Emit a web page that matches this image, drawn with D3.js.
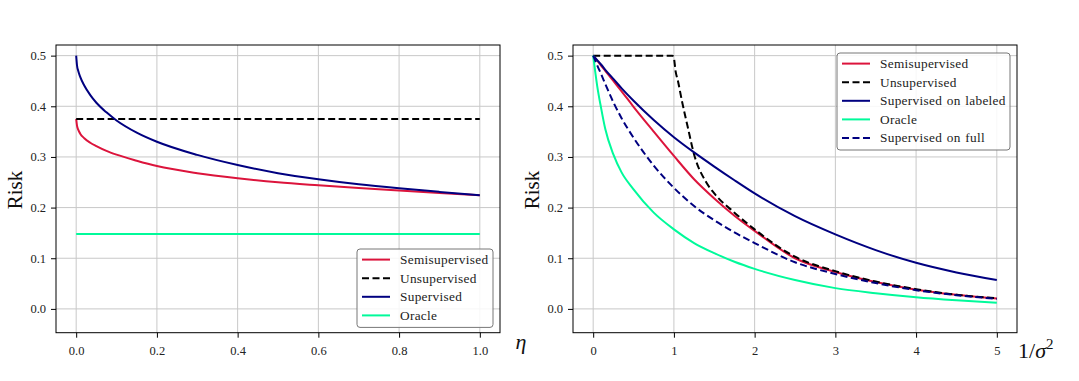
<!DOCTYPE html>
<html>
<head>
<meta charset="utf-8">
<script src="https://cdn.jsdelivr.net/npm/d3@7"></script>
<style>
  body { margin: 0; background: #fff; }
  text { font-family: "Liberation Serif", "DejaVu Serif", serif; }
</style>
</head>
<body>
<div id="chart"></div>
<script>
// left panel: risk vs eta
var etaGrid = [0, 0.002, 0.005, 0.01, 0.02, 0.035, 0.05, 0.075, 0.1, 0.15, 0.2, 0.3, 0.4, 0.5, 0.6, 0.7, 0.8, 0.9, 1.0];
var semiEta = [0.375, 0.362, 0.354, 0.346, 0.337, 0.328, 0.3215, 0.312, 0.3045, 0.2925, 0.282, 0.268, 0.258, 0.250, 0.244, 0.2385, 0.2335, 0.2288, 0.2245];
var supEta = [0.5, 0.481, 0.470, 0.458, 0.441, 0.422, 0.407, 0.388, 0.372, 0.348, 0.330, 0.304, 0.284, 0.268, 0.256, 0.246, 0.238, 0.231, 0.2245];
var unsupEta = [0.375, 0.375];
var oracleEta = [0.148, 0.148];
var etaEnds = [0, 1];

// right panel: risk vs 1/sigma^2
var sGrid = [0, 0.05, 0.1, 0.15, 0.25, 0.35, 0.5, 0.75, 1, 1.25, 1.5, 1.75, 2, 2.5, 3, 3.5, 4, 4.5, 5];
var semiS = [0.5, 0.49, 0.48, 0.47, 0.45, 0.43, 0.399, 0.35, 0.302, 0.256, 0.218, 0.184, 0.154, 0.1, 0.073, 0.053, 0.038, 0.028, 0.0205];
var supLabS = [0.5, 0.491, 0.482, 0.472, 0.454, 0.436, 0.411, 0.373, 0.339, 0.309, 0.281, 0.254, 0.228, 0.183, 0.147, 0.116, 0.091, 0.072, 0.057];
var oracleS = [0.5, 0.44, 0.395, 0.355, 0.305, 0.27, 0.236, 0.19, 0.157, 0.13, 0.11, 0.093, 0.079, 0.057, 0.041, 0.031, 0.023, 0.017, 0.012];
var supFullS = [0.5, 0.481, 0.463, 0.444, 0.408, 0.377, 0.338, 0.283, 0.239, 0.203, 0.175, 0.151, 0.13, 0.092, 0.069, 0.051, 0.037, 0.027, 0.02];
var unsupGrid = [0, 0.98, 1.0, 1.02, 1.05, 1.1, 1.17, 1.25, 1.4, 1.5, 1.75, 2, 2.5, 3, 3.5, 4, 4.5, 5];
var unsupS = [0.5, 0.5, 0.495, 0.47, 0.45, 0.41, 0.36, 0.305, 0.25, 0.228, 0.19, 0.157, 0.103, 0.0745, 0.054, 0.039, 0.028, 0.021];

var yTicks = [0, 0.1, 0.2, 0.3, 0.4, 0.5];
var etaTicks = [0, 0.2, 0.4, 0.6, 0.8, 1.0];
var sTicks = [0, 1, 2, 3, 4, 5];

var RED = "#dc143c", NAVY = "#000080", GREEN = "#00fa9a", BLACK = "#000";

var svg = d3.select("#chart").append("svg").attr("width", 1079).attr("height", 381);
svg.append("rect").attr("width", 1079).attr("height", 381).attr("fill", "#fff");

var plotTop = 45, plotBottom = 332.7;
var yScale = d3.scaleLinear().domain([-0.047, 0.521]).range([plotBottom, plotTop]);

function panel(left, right, xDomain, xTicks, fmt) {
    var xScale = d3.scaleLinear().domain(xDomain).range([left, right]);
    var g = svg.append("g");

    // grid
    g.selectAll(".vg").data(xTicks).enter().append("line")
     .attr("x1", function(d) { return xScale(d); }).attr("x2", function(d) { return xScale(d); })
     .attr("y1", plotTop).attr("y2", plotBottom)
     .attr("stroke", "#c8c8c8").attr("stroke-width", 1);
    g.selectAll(".hg").data(yTicks).enter().append("line")
     .attr("y1", function(d) { return yScale(d); }).attr("y2", function(d) { return yScale(d); })
     .attr("x1", left).attr("x2", right)
     .attr("stroke", "#c8c8c8").attr("stroke-width", 1);

    var curves = svg.append("g");

    // axes
    var ax = svg.append("g").attr("transform", "translate(0," + plotBottom + ")")
       .call(d3.axisBottom(xScale).tickValues(xTicks).tickFormat(fmt).tickSize(5).tickPadding(8));
    var ay = svg.append("g").attr("transform", "translate(" + left + ",0)")
       .call(d3.axisLeft(yScale).tickValues(yTicks).tickFormat(d3.format(".1f")).tickSize(5).tickPadding(5));
    [ax, ay].forEach(function(a) {
        a.select(".domain").remove();
        a.selectAll("text").attr("font-size", "12.5px").attr("fill", "#222")
         .attr("font-family", "Liberation Serif, DejaVu Serif, serif");
        a.selectAll("line").attr("stroke", "#000");
    });

    svg.append("rect").attr("x", left).attr("y", plotTop)
       .attr("width", right - left).attr("height", plotBottom - plotTop)
       .attr("fill", "none").attr("stroke", "#000").attr("stroke-width", 1);

    return { x: xScale, curves: curves };
}

function draw(p, xs, ys, color, dash) {
    var line = d3.line().x(function(d) { return p.x(d[0]); }).y(function(d) { return yScale(d[1]); })
                 .curve(d3.curveMonotoneX);
    p.curves.append("path")
     .datum(xs.map(function(x, i) { return [x, ys[i]]; }))
     .attr("d", line)
     .attr("fill", "none")
     .attr("stroke", color)
     .attr("stroke-width", 2)
     .attr("stroke-dasharray", dash ? "7,3.5" : null);
}

function legend(x, y, w, entries) {
    var rowH = 18.6;
    var h = entries.length * rowH + 4;
    var lg = svg.append("g").attr("transform", "translate(" + x + "," + y + ")");
    lg.append("rect").attr("width", w).attr("height", h).attr("rx", 3)
      .attr("fill", "#fff").attr("fill-opacity", 0.85)
      .attr("stroke", "#777").attr("stroke-width", 1);
    entries.forEach(function(e, i) {
        var cy = 10.6 + i * rowH;
        lg.append("line").attr("x1", 5).attr("x2", 33).attr("y1", cy).attr("y2", cy)
          .attr("stroke", e[1]).attr("stroke-width", 2)
          .attr("stroke-dasharray", e[2] ? "7,3.5" : null);
        lg.append("text").attr("x", 43).attr("y", cy + 4.3)
          .attr("font-size", "13.3px").attr("letter-spacing", "0.3px").attr("word-spacing", "1px")
          .attr("fill", "#222").text(e[0]);
    });
}

// left panel
var pL = panel(56, 500, [-0.05, 1.05], etaTicks, d3.format(".1f"));
draw(pL, etaGrid, semiEta, RED, false);
draw(pL, etaEnds, unsupEta, BLACK, true);
draw(pL, etaGrid, supEta, NAVY, false);
draw(pL, etaEnds, oracleEta, GREEN, false);

// right panel
var pR = panel(573, 1017, [-0.25, 5.25], sTicks, d3.format("d"));
draw(pR, sGrid, semiS, RED, false);
draw(pR, unsupGrid, unsupS, BLACK, true);
draw(pR, sGrid, supLabS, NAVY, false);
draw(pR, sGrid, oracleS, GREEN, false);
draw(pR, sGrid, supFullS, NAVY, true);

legend(357, 249, 136, [["Semisupervised", RED], ["Unsupervised", BLACK, true], ["Supervised", NAVY], ["Oracle", GREEN]]);
legend(837, 53, 173, [["Semisupervised", RED], ["Unsupervised", BLACK, true], ["Supervised on labeled", NAVY], ["Oracle", GREEN], ["Supervised on full", NAVY, true]]);

// axis labels
svg.append("text").attr("transform", "translate(22,190) rotate(-90)")
   .attr("text-anchor", "middle").attr("font-size", "21px").attr("fill", "#111").text("Risk");
svg.append("text").attr("transform", "translate(539,190) rotate(-90)")
   .attr("text-anchor", "middle").attr("font-size", "21px").attr("fill", "#111").text("Risk");
svg.append("text").attr("x", 521).attr("y", 349).attr("text-anchor", "middle")
   .attr("font-size", "22px").attr("font-style", "italic").attr("fill", "#111").text("η");
var sl = svg.append("text").attr("x", 1018).attr("y", 358).attr("font-size", "22px").attr("fill", "#111");
sl.append("tspan").text("1/");
sl.append("tspan").attr("font-style", "italic").text("σ");
sl.append("tspan").attr("font-size", "15px").attr("dy", -9).text("2");
</script>
</body>
</html>
